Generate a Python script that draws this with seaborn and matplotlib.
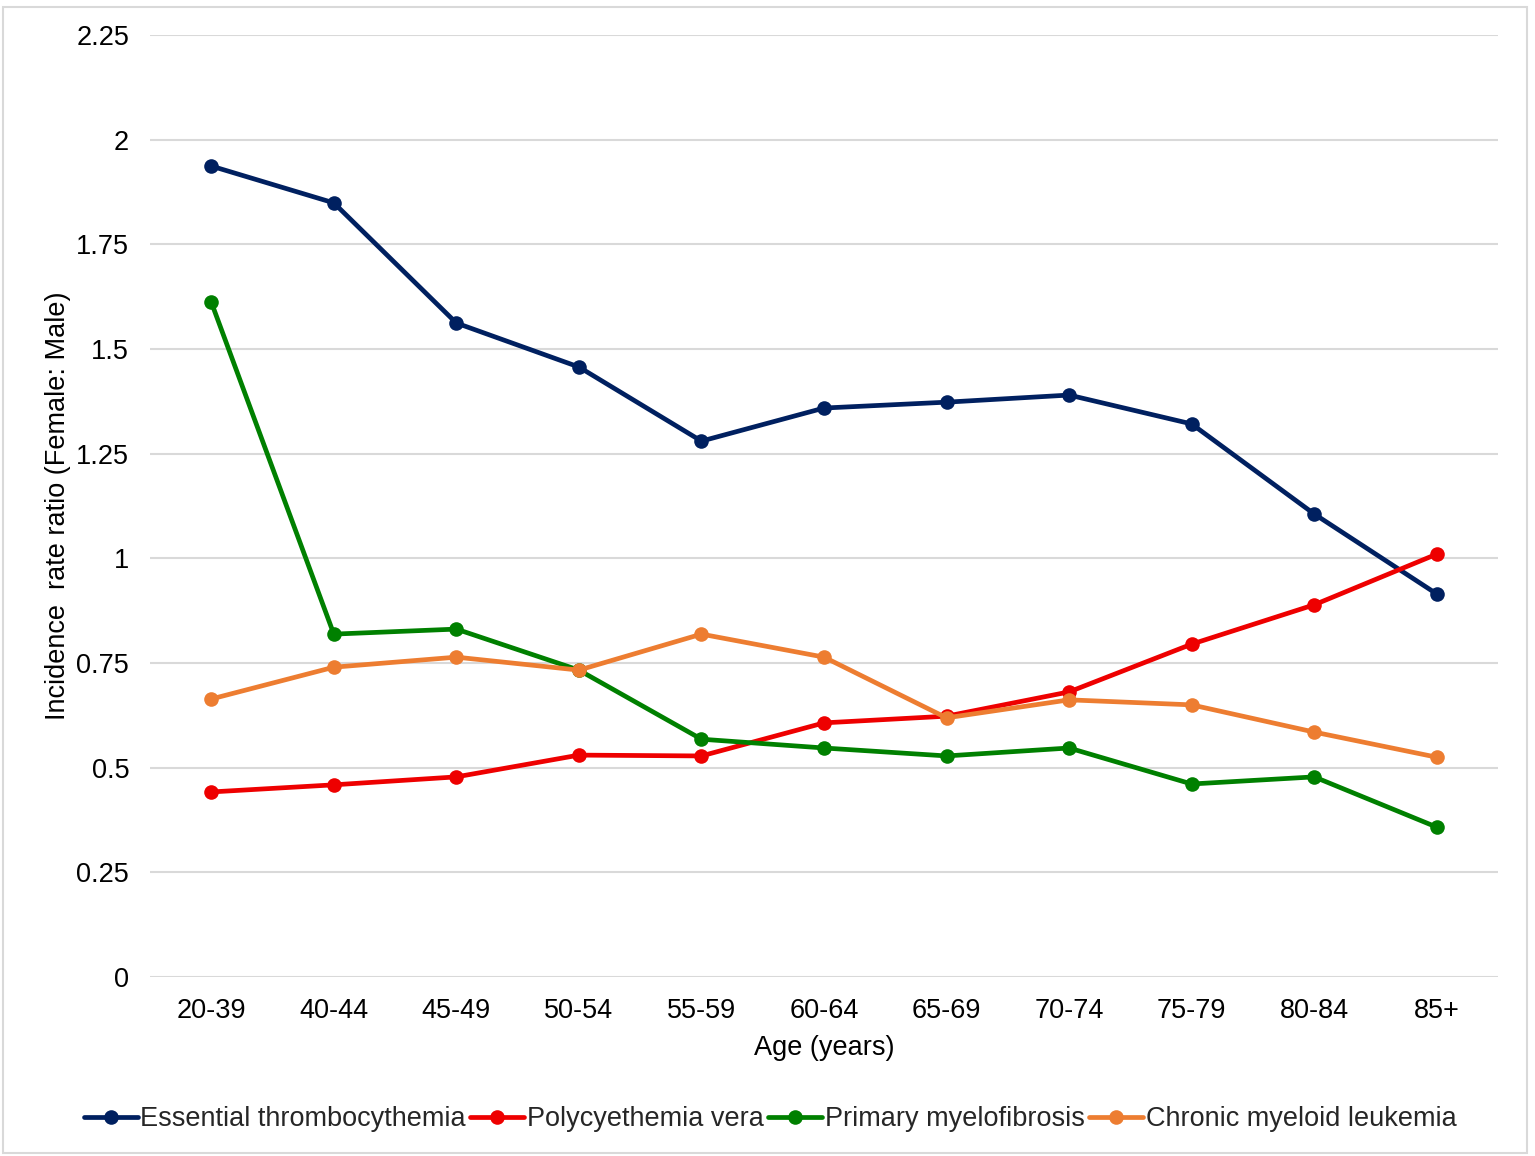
import matplotlib
matplotlib.use("Agg")
import matplotlib.pyplot as plt
import seaborn as sns
import pandas as pd
from matplotlib.patches import Rectangle

age_groups = ["20-39", "40-44", "45-49", "50-54", "55-59", "60-64", "65-69", "70-74", "75-79", "80-84", "85+"]
essential_thrombocythemia = [1.937, 1.849, 1.562, 1.457, 1.280, 1.359, 1.373, 1.390, 1.321, 1.106, 0.915]
polycythemia_vera = [0.442, 0.459, 0.478, 0.530, 0.528, 0.607, 0.623, 0.681, 0.795, 0.889, 1.010]
primary_myelofibrosis = [1.612, 0.819, 0.831, 0.733, 0.568, 0.547, 0.528, 0.547, 0.461, 0.478, 0.358]
chronic_myeloid_leukemia = [0.664, 0.740, 0.764, 0.733, 0.819, 0.764, 0.619, 0.662, 0.650, 0.585, 0.525]
y_ticks = [0, 0.25, 0.5, 0.75, 1, 1.25, 1.5, 1.75, 2, 2.25]
y_tick_labels = ["0", "0.25", "0.5", "0.75", "1", "1.25", "1.5", "1.75", "2", "2.25"]

series_names = ["Essential thrombocythemia", "Polycyethemia vera", "Primary myelofibrosis", "Chronic myeloid leukemia"]
series_values = [essential_thrombocythemia, polycythemia_vera, primary_myelofibrosis, chronic_myeloid_leukemia]
colors = ["#002060", "#EE0000", "#008000", "#ED7D31"]

rows = []
for name, vals in zip(series_names, series_values):
    for a, v in zip(age_groups, vals):
        rows.append({"Age": a, "Ratio": v, "Series": name})
df = pd.DataFrame(rows)

sns.set_theme(style="white")
plt.rcParams["font.family"] = ["Liberation Sans", "DejaVu Sans"]

FS = 19.5
fig = plt.figure(figsize=(15.35, 11.56), dpi=100)
ax = fig.add_axes([150/1535, 1-977/1156, (1498-150)/1535, (977-35)/1156])

sns.lineplot(data=df, x="Age", y="Ratio", hue="Series", hue_order=series_names,
             palette=colors, marker="o", markersize=10.5, markeredgewidth=0,
             linewidth=3.4, sort=False, ax=ax, legend=True)

ax.set_xlim(-0.5, 10.5)
ax.set_ylim(0, 2.25)
ax.set_yticks(y_ticks)
ax.set_yticklabels(y_tick_labels)
ax.yaxis.grid(True, color="#D9D9D9", linewidth=1.5)
ax.set_axisbelow(True)
for s in ax.spines.values():
    s.set_visible(False)
ax.tick_params(axis="both", labelsize=FS, colors="black", length=0)
ax.tick_params(axis="y", pad=15)
ax.tick_params(axis="x", pad=15)
ax.set_xlabel("Age (years)", fontsize=FS, color="black", labelpad=8)
ax.set_ylabel("Incidence  rate ratio (Female: Male)", fontsize=FS, color="black", labelpad=4)

handles, labels = ax.get_legend_handles_labels()
ax.legend(handles, labels, loc="center", bbox_to_anchor=(770 / 1535, 1 - 1119/1156),
          bbox_transform=fig.transFigure, ncol=4, frameon=False, fontsize=FS,
          handlelength=2.0, handletextpad=0.1, columnspacing=0.15, borderaxespad=0)

fig.patches.append(Rectangle((3/1535, 3/1156), 1524/1535, 1146/1156, transform=fig.transFigure,
                             fill=False, edgecolor="#D9D9D9", linewidth=1.5))

fig.savefig("out.png", dpi=100)
